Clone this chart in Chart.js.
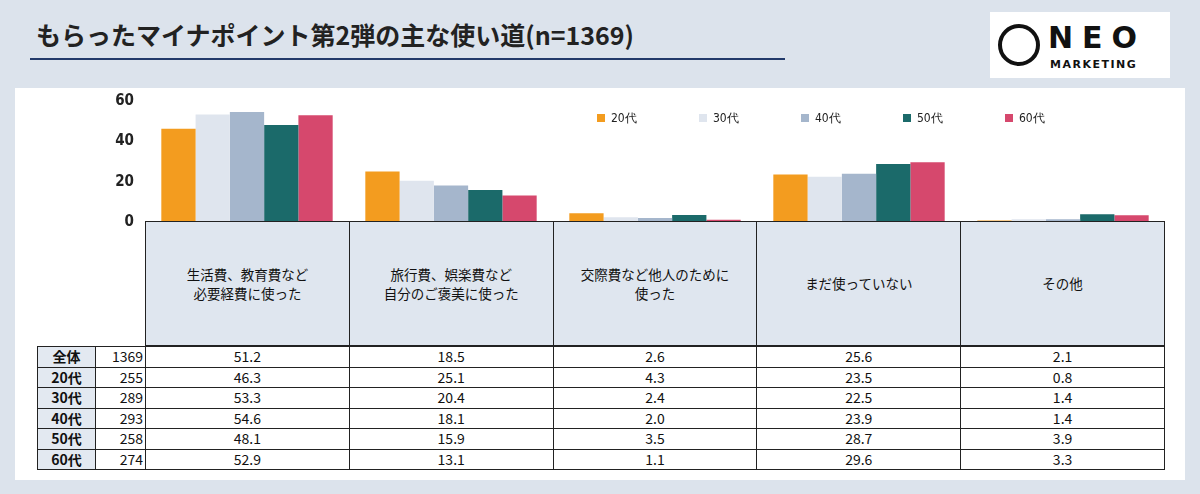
<!DOCTYPE html>
<html><head><meta charset="utf-8">
<script src="https://cdn.jsdelivr.net/npm/chart.js@4"></script>
<style>
body{margin:0;width:1200px;height:494px;background:#dce3ec;font-family:"Noto Sans CJK JP",sans-serif;position:relative;overflow:hidden}
#title{position:absolute;left:36px;top:16px;font-size:25px;font-weight:bold;color:#222}
#uline{position:absolute;left:30px;top:58px;width:755px;height:2px;background:#223a6a}
#logo{position:absolute;left:990px;top:12px;width:180px;height:66px;background:#fff;font-family:"DejaVu Sans";}
#logo .c{position:absolute;left:8px;top:12px;width:34px;height:34px;border:4px solid #111;border-radius:50%}
#logo .n{position:absolute;left:58px;top:8px;font-size:30px;font-weight:bold;letter-spacing:9px;color:#111}
#logo .m{position:absolute;left:60px;top:46px;font-size:11px;font-weight:bold;letter-spacing:1.5px;color:#111}
#panel{position:absolute;left:15px;top:88px;width:1170px;height:392px;background:#fff}
#wrap{position:absolute;left:90px;top:89px;width:1075px;height:145px}
#legend{position:absolute;left:597px;top:110px;font-family:"DejaVu Sans Condensed";font-size:12px;color:#222}
#legend span{position:absolute;white-space:nowrap}
#legend i{display:inline-block;width:8px;height:8px;margin-right:6px}
table{position:absolute;border-collapse:collapse;table-layout:fixed}
td{padding:0;box-sizing:border-box}
#hdr{left:145px;top:221px;width:1019px}
#hdr td{height:124px;border:1.5px solid #222;background:#dfe6ef;text-align:center;font-size:13.5px;line-height:19px;color:#111}
#tbl{left:37px;top:346px;width:1127px}
#tbl td{border:1.5px solid #222;height:20.5px;text-align:center;line-height:17px;color:#111;font-size:14px}
#tbl td.l{background:#e3e9f1;font-weight:bold}
#tbl td.n{text-align:right;padding-right:2px}
</style></head><body>
<div id="title">もらったマイナポイント第2弾の主な使い道(n=1369)</div>
<div id="uline"></div>
<div id="logo"><div class="c"></div><div class="n">NEO</div><div class="m">MARKETING</div></div>
<div id="panel"></div>
<div id="wrap"><canvas id="c"></canvas></div>
<div id="legend"></div>
<table id="hdr"><colgroup><col style="width:203.8px"><col style="width:203.8px"><col style="width:203.8px"><col style="width:203.8px"><col style="width:203.8px"></colgroup><tr id="hrow"></tr></table>
<table id="tbl"><colgroup><col style="width:58px"><col style="width:50px"><col style="width:203.8px"><col style="width:203.8px"><col style="width:203.8px"><col style="width:203.8px"><col style="width:203.8px"></colgroup><tbody id="tb"></tbody></table>
<script>
const categories = ['生活費、教育費など<br>必要経費に使った','旅行費、娯楽費など<br>自分のご褒美に使った','交際費など他人のために<br>使った','まだ使っていない','その他'];
const groups = ['20代','30代','40代','50代','60代'];
const colors = ['#f39c1f','#dfe5ee','#a5b6cc','#1b6a6a','#d6486d'];
const rowLabels = ['全体','20代','30代','40代','50代','60代'];
const rowN = [1369,255,289,293,258,274];
const total = [51.2,18.5,2.6,25.6,2.1];
const s20 = [46.3,25.1,4.3,23.5,0.8];
const s30 = [53.3,20.4,2.4,22.5,1.4];
const s40 = [54.6,18.1,2.0,23.9,1.4];
const s50 = [48.1,15.9,3.5,28.7,3.9];
const s60 = [52.9,13.1,1.1,29.6,3.3];
const series = [s20,s30,s40,s50,s60];

document.getElementById('hrow').innerHTML = categories.map(c=>'<td>'+c+'</td>').join('');
const rows = [total].concat(series);
document.getElementById('tb').innerHTML = rows.map((r,i)=>'<tr><td class="l">'+rowLabels[i]+'</td><td class="n">'+rowN[i]+'</td>'+r.map(v=>'<td>'+v.toFixed(1)+'</td>').join('')+'</tr>').join('');
document.getElementById('legend').innerHTML = groups.map((g,i)=>'<span style="left:'+(i*102)+'px"><i style="background:'+colors[i]+'"></i>'+g+'</span>').join('');

new Chart(document.getElementById('c'), {
  type: 'bar',
  data: {
    labels: categories.map(c=>c.replace('<br>','')),
    datasets: series.map((d,i)=>({label: groups[i], data: d, backgroundColor: colors[i], barPercentage: 1, categoryPercentage: 0.84}))
  },
  options: {
    responsive: true, maintainAspectRatio: false, animation: false,
    layout: {padding: {top: 10, bottom: 0}},
    plugins: {legend: {display: false}, tooltip: {enabled: false}},
    scales: {
      x: {display: false},
      y: {min: 0, max: 60, ticks: {stepSize: 20, color: '#222', font: {size: 15, weight: 'bold', family: 'DejaVu Sans Condensed'}},
          grid: {display: false}, border: {display: false},
          afterFit: s => { s.width = 55; }}
    }
  }
});
</script>
</body></html>
